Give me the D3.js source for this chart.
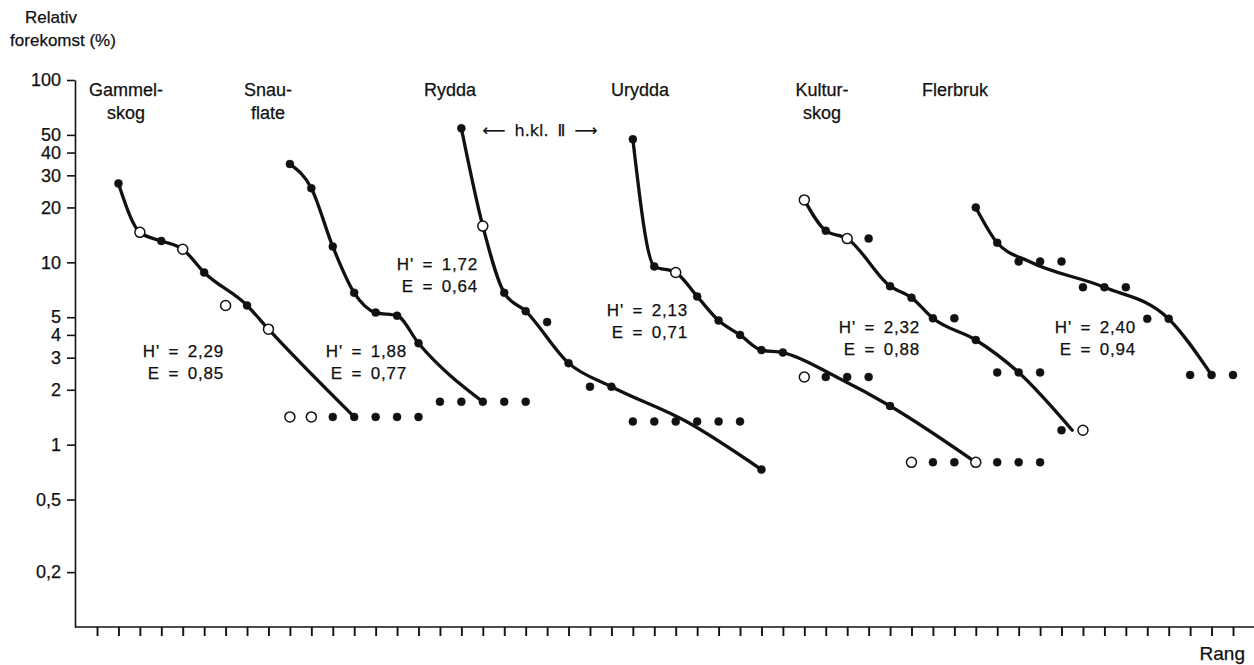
<!DOCTYPE html>
<html>
<head>
<meta charset="utf-8">
<script src="https://cdn.jsdelivr.net/npm/d3@7"></script>
<style>
  body { margin: 0; background: #fff; }
  svg text { font-family: 'Liberation Sans', Arial, Helvetica, sans-serif; fill: #111; stroke: #111; stroke-width: 0.25px; }
</style>
</head>
<body>
<svg id="viz"></svg>
<script>
// global vars
var width = 1254;
var height = 665;

// panels (forest types) and where their rank 1 sits on the rank axis
const panelNames = ['Gammelskog', 'Snauflate', 'Rydda', 'Urydda', 'Kulturskog', 'Flerbruk'];
const panelTitles = [['Gammel-', 'skog'], ['Snau-', 'flate'], ['Rydda'], ['Urydda'], ['Kultur-', 'skog'], ['Flerbruk']];
const startRank = [1, 9, 17, 25, 33, 41];

// relative abundance (%) by rank
const gammelskog = [27.1, 14.6, 13.1, 11.8, 8.8, 5.8, 5.8, 4.3, 1.42, 1.42, 1.42, 1.42, 1.42, 1.42, 1.42];
const snauflate = [34.6, 25.5, 12.2, 6.8, 5.3, 5.1, 3.6, 1.72, 1.72, 1.72, 1.72, 1.72];
const rydda = [54.3, 15.8, 6.8, 5.4, 4.7, 2.8, 2.08, 2.08, 1.34, 1.34, 1.34, 1.34, 1.34, 1.34, 0.73];
const urydda = [47.3, 9.5, 8.8, 6.5, 4.8, 4.0, 3.3, 3.2, 2.35, 2.35, 2.35, 2.35, 1.63, 0.8, 0.8, 0.8, 0.8, 0.8, 0.8, 0.8];
const kulturskog = [22, 14.9, 13.5, 13.5, 7.4, 6.4, 4.93, 4.93, 3.75, 2.49, 2.49, 2.49, 1.2, 1.2];
const flerbruk = [20, 12.8, 10.1, 10.1, 10.1, 7.3, 7.3, 7.3, 4.9, 4.9, 2.41, 2.41, 2.41];

// 1 = open circle, 0 = filled dot
const gammelskogOpen = [0, 1, 0, 1, 0, 1, 0, 1, 1, 1, 0, 0, 0, 0, 0];
const snauflateOpen = [0, 0, 0, 0, 0, 0, 0, 0, 0, 0, 0, 0];
const ryddaOpen = [0, 1, 0, 0, 0, 0, 0, 0, 0, 0, 0, 0, 0, 0, 0];
const uryddaOpen = [0, 0, 1, 0, 0, 0, 0, 0, 1, 0, 0, 0, 0, 1, 0, 0, 1, 0, 0, 0];
const kulturskogOpen = [1, 0, 1, 0, 0, 0, 0, 0, 0, 0, 0, 0, 0, 1];
const flerbrukOpen = [0, 0, 0, 0, 0, 0, 0, 0, 0, 0, 0, 0, 0];

// 1 = the hand-drawn curve goes through this point (tied runs meet the curve at their middle)
const gammelskogFit = [1, 1, 1, 1, 1, 0, 1, 1, 1, 1, 1, 1, 1, 1, 1];
const snauflateFit = [1, 1, 1, 1, 1, 1, 1, 1, 1, 1, 1, 1];
const ryddaFit = [1, 1, 1, 1, 0, 1, 0, 1, 1, 1, 1, 1, 1, 1, 1];
const uryddaFit = [1, 1, 1, 1, 1, 1, 1, 1, 0, 1, 1, 0, 1, 1, 1, 1, 1, 1, 1, 1];
const kulturskogFit = [1, 1, 1, 0, 1, 1, 1, 0, 1, 0, 1, 0, 1, 1];
const flerbrukFit = [1, 1, 1, 1, 0, 0, 1, 0, 0, 1, 1, 1, 1];

// diversity (H') and evenness (E)
const hValues = ['2,29', '1,88', '1,72', '2,13', '2,32', '2,40'];
const eValues = ['0,85', '0,77', '0,64', '0,71', '0,88', '0,94'];

// axis ticks
const yTicks = [100, 50, 40, 30, 20, 10, 5, 4, 3, 2, 1, 0.5, 0.2];
const yTickLabels = ['100', '50', '40', '30', '20', '10', '5', '4', '3', '2', '1', '0,5', '0,2'];
const rankTicks = d3.range(0, 54);

var seriesValues = [gammelskog, snauflate, rydda, urydda, kulturskog, flerbruk];
var seriesOpen = [gammelskogOpen, snauflateOpen, ryddaOpen, uryddaOpen, kulturskogOpen, flerbrukOpen];
var seriesFit = [gammelskogFit, snauflateFit, ryddaFit, uryddaFit, kulturskogFit, flerbrukFit];

var svg = d3.select('#viz').attr('width', width).attr('height', height);

var x = d3.scaleLinear().domain([0, 53]).range([97, 1233]);
var y = d3.scaleLog().domain([0.1, 100]).range([627, 80]);

// knots of the curve: fitted points, with a run of equal values pulled to its middle
function curveKnots(start, vals, fit) {
  var pts = [];
  vals.forEach(function (v, i) {
    if (fit[i]) pts.push([start + i, v]);
  });
  var out = [];
  var i = 0;
  while (i < pts.length) {
    var j = i;
    while (j + 1 < pts.length && pts[j + 1][1] == pts[i][1] && pts[j + 1][0] == pts[j][0] + 1) j++;
    out.push([(pts[i][0] + pts[j][0]) / 2, pts[i][1]]);
    i = j + 1;
  }
  return out;
}

function drawAxes() {
  var yAxis = svg
    .append('g')
    .attr('transform', 'translate(75,0)')
    .call(
      d3.axisLeft(y)
        .tickValues(yTicks)
        .tickFormat((d, i) => yTickLabels[i])
        .tickSize(8)
        .tickSizeOuter(0)
        .tickPadding(6)
    );
  yAxis.select('.domain').attr('stroke', '#111').style('stroke-width', '1.6px');
  yAxis.selectAll('.tick line').attr('stroke', '#111').style('stroke-width', '1.6px');
  yAxis.selectAll('.tick text').style('font-size', '18px').attr('fill', '#111');

  var xAxis = svg
    .append('g')
    .attr('transform', 'translate(0,627)')
    .call(d3.axisBottom(x).tickValues(rankTicks).tickFormat('').tickSize(9).tickSizeOuter(0));
  xAxis.select('.domain').remove();
  xAxis.selectAll('.tick line').attr('stroke', '#111').style('stroke-width', '1.9px');

  svg
    .append('line')
    .attr('x1', 75)
    .attr('x2', width)
    .attr('y1', 627)
    .attr('y2', 627)
    .attr('stroke', '#111')
    .style('stroke-width', '1.6px');

  svg.append('text').attr('x', 51).attr('y', 23).attr('text-anchor', 'middle').style('font-size', '17px').text('Relativ');
  svg.append('text').attr('x', 63).attr('y', 46).attr('text-anchor', 'middle').style('font-size', '17px').text('forekomst (%)');
  svg.append('text').attr('x', 1245).attr('y', 660).attr('text-anchor', 'end').style('font-size', '19px').text('Rang');
}

function drawPanels() {
  var line = d3
    .line()
    .x((d) => x(d[0]))
    .y((d) => y(d[1]))
    .curve(d3.curveMonotoneX);

  seriesValues.forEach(function (vals, k) {
    var g = svg.append('g').attr('class', 'panel ' + panelNames[k]);

    g.append('path')
      .datum(curveKnots(startRank[k], vals, seriesFit[k]))
      .attr('d', line)
      .attr('fill', 'none')
      .attr('stroke', '#111')
      .style('stroke-width', '3.3px')
      .style('stroke-linecap', 'round');

    g.selectAll('circle')
      .data(vals.map((v, i) => ({ rank: startRank[k] + i, value: v, open: seriesOpen[k][i] })))
      .join('circle')
      .attr('cx', (d) => x(d.rank))
      .attr('cy', (d) => y(d.value))
      .attr('r', (d) => (d.open ? 5 : 4))
      .attr('fill', (d) => (d.open ? '#fff' : '#111'))
      .attr('stroke', '#111')
      .style('stroke-width', (d) => (d.open ? '1.5px' : '0.5px'));
  });
}

function drawLabels() {
  var titleX = [126, 268, 450, 640, 822, 955];
  var statX = [224, 407, 478, 688, 920, 1136];
  var statY = [357, 357, 270, 316, 333, 333];

  panelTitles.forEach(function (lines, k) {
    lines.forEach(function (t, j) {
      svg
        .append('text')
        .attr('x', titleX[k])
        .attr('y', 96 + j * 23)
        .attr('text-anchor', 'middle')
        .style('font-size', '18px')
        .text(t);
    });

    svg
      .append('text')
      .attr('x', statX[k])
      .attr('y', statY[k])
      .attr('text-anchor', 'end')
      .style('font-size', '17px')
      .style('letter-spacing', '0.8px')
      .style('word-spacing', '3px')
      .text("H' = " + hValues[k]);

    svg
      .append('text')
      .attr('x', statX[k])
      .attr('y', statY[k] + 22)
      .attr('text-anchor', 'end')
      .style('font-size', '17px')
      .style('letter-spacing', '0.8px')
      .style('word-spacing', '3px')
      .text('E = ' + eValues[k]);
  });

  // hogstklasse II spans Rydda and Urydda
  svg
    .append('text')
    .attr('x', 540)
    .attr('y', 136)
    .attr('text-anchor', 'middle')
    .style('font-family', "'DejaVu Sans', 'Liberation Sans', sans-serif")
    .style('font-size', '16px')
    .style('word-spacing', '4px')
    .text('\u27F5 h.kl. \u2161 \u27F6');
}

drawAxes();
drawPanels();
drawLabels();
</script>
</body>
</html>
